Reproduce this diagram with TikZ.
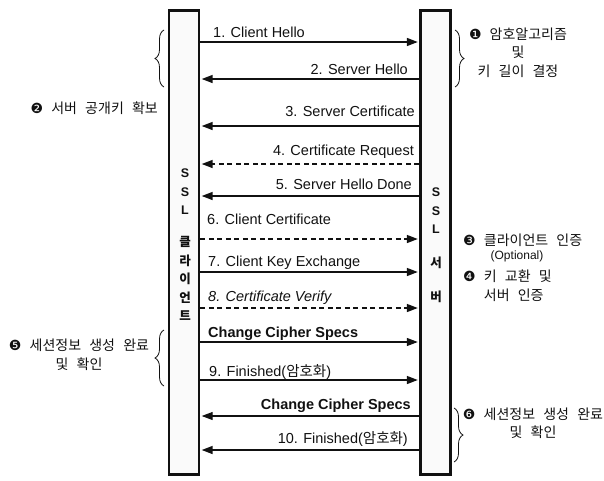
\documentclass[tikz,border=0pt]{standalone}
\usepackage{fontspec}
\setmainfont{Liberation Sans}
\newfontfamily\kr[WordSpace=2.6]{Noto Sans CJK KR}
\newfontfamily\dv{DejaVu Sans}
\usetikzlibrary{arrows.meta,decorations.pathreplacing}
\definecolor{ink}{HTML}{111111}
\definecolor{barfill}{HTML}{FAFAFA}
\newcommand{\stepno}[1]{{\dv\fontsize{14}{14}\selectfont#1}}

\begin{document}
\begin{tikzpicture}[
  x=1pt,y=-1pt,
  font=\fontsize{14.5}{17}\selectfont,
  >={Triangle[length=11pt,width=8pt]},
  bar/.style={draw=ink,fill=barfill,line width=2.8pt,minimum width=30pt,
              minimum height=464pt,inner sep=0pt},
  msg/.style={->,draw=ink,line width=1.5pt,shorten >=1.3pt},
  opt/.style={msg,dash pattern=on 5pt off 3.5pt},
  lbl/.style={text=ink,inner sep=0pt},
  barlbl/.style={text=ink,font=\fontsize{12.5}{18.4}\selectfont\bfseries,
                 align=center,inner sep=0pt},
  note/.style={text=ink,font=\kr\fontsize{14}{18.5}\selectfont,
               align=center,inner sep=0pt},
  curly/.style={draw=ink,line width=0.8pt,decorate,decoration={brace,amplitude=9pt}}
]
\useasboundingbox (0,0) rectangle (604,480);

% Lifelines
\node[bar] (client) at (184,242.5) {};
\node[bar] (server) at (435.5,242.5) {};
\node[barlbl] (clienttop) at (185,192) {S\\S\\L};
\node[barlbl,font=\kr\fontsize{12.5}{18.4}\selectfont\bfseries] (clientbot) at (185,278.5)
  {클\\라\\이\\언\\트};
\node[barlbl] (servertop) at (436,211) {S\\S\\L};
\node[barlbl,font=\kr\fontsize{12.5}{34}\selectfont\bfseries] (serverbot) at (436,280)
  {서\\버};

% Message rows
\coordinate (r1) at (0,42);
\coordinate (r2) at (0,79);
\coordinate (r3) at (0,126);
\coordinate (r4) at (0,164);
\coordinate (r5) at (0,196);
\coordinate (r6) at (0,239);
\coordinate (r7) at (0,272);
\coordinate (r8) at (0,308);
\coordinate (r9) at (0,342);
\coordinate (r10) at (0,380);
\coordinate (r11) at (0,416);
\coordinate (r12) at (0,450);

\draw[msg] (client.east |- r1) -- (server.west |- r1);
\draw[msg] (server.west |- r2) -- (client.east |- r2);
\draw[msg] (server.west |- r3) -- (client.east |- r3);
\draw[opt] (server.west |- r4) -- (client.east |- r4);
\draw[msg] (server.west |- r5) -- (client.east |- r5);
\draw[opt] (client.east |- r6) -- (server.west |- r6);
\draw[msg] (client.east |- r7) -- (server.west |- r7);
\draw[opt] (client.east |- r8) -- (server.west |- r8);
\draw[msg,line width=1.1pt] (client.east |- r9) -- (server.west |- r9);
\draw[msg] (client.east |- r10) -- (server.west |- r10);
\draw[msg,line width=1.1pt] (server.west |- r11) -- (client.east |- r11);
\draw[msg] (server.west |- r12) -- (client.east |- r12);

% Message labels
\node[lbl,anchor=base west] (m1) at (213,37) {1. Client Hello};
\node[lbl,anchor=base east] (m2) at (408,74) {2. Server Hello};
\node[lbl,anchor=base east] (m3) at (415,116) {3. Server Certificate};
\node[lbl,anchor=base east] (m4) at (414,155) {4. Certificate Request};
\node[lbl,anchor=base east] (m5) at (412,189) {5. Server Hello Done};
\node[lbl,anchor=base west] (m6) at (207,224) {6. Client Certificate};
\node[lbl,anchor=base west] (m7) at (208,266) {7. Client Key Exchange};
\node[lbl,anchor=base west] (m8) at (208,301) {\itshape 8. Certificate Verify};
\node[lbl,anchor=base west] (m9) at (208,337) {\bfseries Change Cipher Specs};
\node[lbl,anchor=base west] (m10) at (209,376) {9. Finished({\kr 암호화})};
\node[lbl,anchor=base east] (m11) at (411,409) {\bfseries Change Cipher Specs};
\node[lbl,anchor=base east] (m12) at (408,443) {10. Finished({\kr 암호화})};

% Phase braces
\draw[curly] (164,87) -- (164,30);
\draw[curly] (455,30) -- (455,87);
\draw[curly] (164,386) -- (164,330);
\draw[curly] (454,408) -- (454,462);

% Phase notes
\node[note] (n1) at (518,52.5) {\stepno{❶} 암호알고리즘\\및\\키 길이 결정};
\node[note,anchor=east] (n2) at (158,108) {\stepno{❷} 서버 공개키 확보};
\node[note,anchor=west] (n3) at (463,240) {\stepno{❸} 클라이언트 인증};
\node[lbl,font=\fontsize{12}{14}\selectfont] (n3b) at (517,256) {(Optional)};
\node[note,anchor=north west,align=left] (n4) at (463,270)
  {\stepno{❹} 키 교환 및\\\phantom{\stepno{❹} }서버 인증};
\node[note] (n5) at (79,354.5) {\stepno{❺} 세션정보 생성 완료\\및 확인};
\node[note] (n6) at (533,423) {\stepno{❻} 세션정보 생성 완료\\및 확인};

\end{tikzpicture}
\end{document}
